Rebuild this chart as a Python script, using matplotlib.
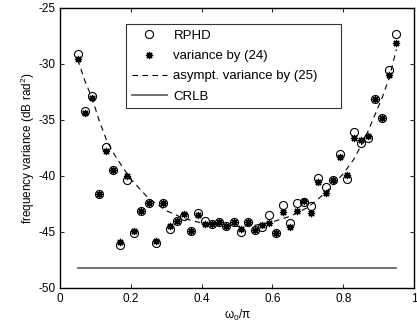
import numpy as np
import matplotlib
matplotlib.use("Agg")
import matplotlib.pyplot as plt

plt.rcParams["font.family"] = ["Liberation Sans", "DejaVu Sans"]
plt.rcParams["axes.unicode_minus"] = False

# normalized frequencies of the simulation points
w = np.round(np.arange(0.05, 0.951, 0.02), 2)

rphd = [-29.1, -34.2, -32.9, -41.6, -37.4, -39.5, -46.2, -40.4, -45.1, -43.1,
        -42.4, -46.0, -42.4, -44.7, -44.0, -43.6, -44.9, -43.3, -44.0, -44.3,
        -44.1, -44.5, -44.1, -45.0, -44.1, -44.8, -44.6, -43.5, -45.1, -42.6,
        -44.2, -42.4, -42.3, -42.7, -40.2, -41.0, -40.4, -38.0, -40.3, -36.1,
        -37.1, -36.6, -33.1, -34.8, -30.5, -27.3]
var24 = [-29.6, -34.4, -33.0, -41.6, -37.8, -39.5, -45.9, -40.0, -44.9, -43.1,
         -42.4, -45.8, -42.4, -44.5, -44.0, -43.4, -44.9, -43.5, -44.3, -44.3,
         -44.1, -44.5, -44.1, -44.7, -44.1, -44.8, -44.4, -44.2, -45.1, -43.2,
         -44.6, -43.1, -42.2, -43.3, -40.5, -41.5, -40.4, -38.3, -39.9, -36.6,
         -36.8, -36.4, -33.1, -34.8, -31.0, -28.1]

# asymptotic variance (25)
w_asy = [0.05, 0.07, 0.09, 0.11, 0.13, 0.15, 0.17, 0.20, 0.25, 0.30, 0.35, 0.40,
         0.45, 0.50, 0.55, 0.60, 0.65, 0.70, 0.75, 0.80, 0.83, 0.85, 0.87, 0.89,
         0.91, 0.93, 0.95]
asy = [-29.6, -31.5, -33.0, -35.0, -36.7, -37.9, -38.9, -40.3, -42.0, -43.1,
       -43.8, -44.2, -44.4, -44.5, -44.4, -44.1, -43.6, -42.8, -41.5, -39.8,
       -38.5, -37.3, -36.0, -34.5, -33.0, -31.2, -28.7]

crlb_w = [0.05, 0.95]
crlb = [-48.2, -48.2]

fig = plt.figure(figsize=(4.17, 3.31), dpi=100)
ax = fig.add_axes([0.144, 0.130, 0.849, 0.846])

ax.plot(w, rphd, "o", mfc="none", mec="k", ms=5.8, mew=0.8, label="RPHD")
ax.plot(w, var24, ls="none", marker=(8, 2, 0), color="k", ms=5.2, mew=0.9,
        label="variance by (24)")
ax.plot(w_asy, asy, "k", ls=(0, (5, 4)), lw=0.8, label="asympt. variance by (25)")
ax.plot(crlb_w, crlb, color="0.4", lw=1.3, label="CRLB")

ax.set_xlim(0, 1)
ax.set_ylim(-50, -25)
ax.set_xticks([0, 0.2, 0.4, 0.6, 0.8, 1])
ax.set_xticklabels(["0", "0.2", "0.4", "0.6", "0.8", "1"])
ax.set_yticks([-50, -45, -40, -35, -30, -25])
ax.tick_params(direction="in", top=True, right=True, labelsize=8.5, length=3, width=0.6)
for s in ax.spines.values():
    s.set_linewidth(1.0)

ax.set_xlabel(r"$\mathregular{\omega_0/\pi}$", fontsize=8.5, labelpad=2)
ax.set_ylabel(r"frequency variance (dB rad$^\mathregular{2}$)", fontsize=8.5, labelpad=1)

leg = ax.legend(loc="upper left", bbox_to_anchor=(0.186, 0.643, 0.607, 0.3),
                mode="expand", fontsize=9.5, frameon=True, fancybox=False,
                edgecolor="k", handlelength=2.65, borderpad=0.45,
                labelspacing=0.6, handletextpad=0.5, borderaxespad=0)
leg.get_frame().set_linewidth(0.8)

fig.savefig("out.png", dpi=100)
